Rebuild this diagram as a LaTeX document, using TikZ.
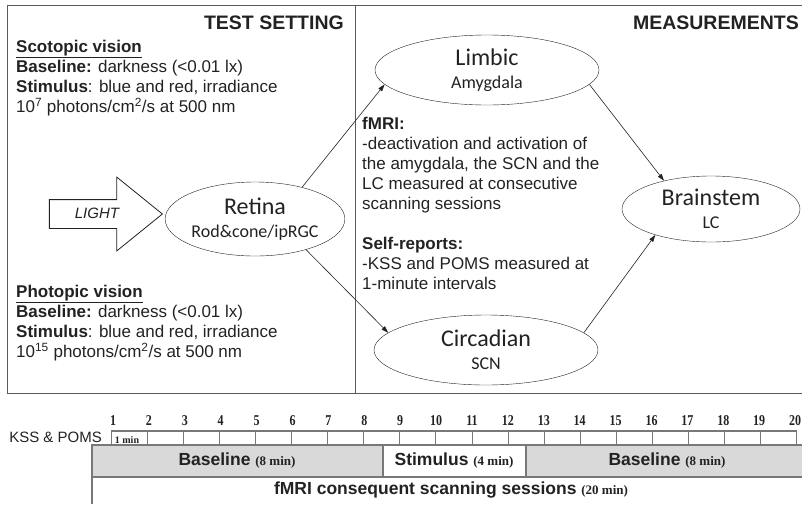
\documentclass[tikz,border=0pt]{standalone}
\usepackage{fontspec}
\setmainfont{Liberation Sans}
\newfontfamily\calfont{Carlito}
\newfontfamily\serfont{Liberation Serif}
\newfontfamily\numfont[FakeStretch=0.8]{Liberation Serif}
\usepackage{xcolor}
\definecolor{framegray}{RGB}{90,90,90}
\definecolor{bargray}{RGB}{217,217,217}
\definecolor{tickgray}{RGB}{120,120,120}
\definecolor{inkgray}{RGB}{34,34,34}
\newcommand*{\mins}[1]{{\serfont\bfseries\fontsize{13}{13}\selectfont #1}}
\newcommand*{\subpart}[1]{{\fontsize{18}{19}\selectfont #1}}
\usetikzlibrary{shapes.geometric,shapes.arrows,arrows.meta}

\begin{document}
\begin{tikzpicture}[x=1pt,y=-1pt,
    region/.style={draw=inkgray,ellipse,inner sep=0pt,minimum width=224pt,minimum height=70pt,
      align=center,text=inkgray,font=\calfont\fontsize{24}{24}\selectfont},
    info/.style={anchor=north west,inner sep=0pt,align=left,text=inkgray,
      font=\fontsize{17}{20}\selectfont},
    link/.style={draw=inkgray,line width=0.6pt,-{Triangle[length=7pt,width=4.5pt]}},
    heading/.style={anchor=east,inner sep=0pt,text=inkgray,font=\bfseries\fontsize{19.5}{20}\selectfont}]
  \useasboundingbox (0,0) rectangle (802,504);
  % frame
  \draw[framegray,line width=0.9pt] (802,5) -- (7,5) -- (7,393) -- (802,393);
  \draw[framegray,line width=0.9pt] (355,5) -- (355,393);
  \node[heading] (tset) at (344,23) {TEST SETTING};
  \node[heading] (meas) at (799,23) {MEASUREMENTS};
  % test setting
  \node[info] (scot) at (16,40) {\textbf{\underline{Scotopic vision}}\\
    \textbf{Baseline:} darkness (<0.01 lx)\\
    \textbf{Stimulus}: blue and red, irradiance\\
    10\textsuperscript{7} photons/cm\textsuperscript{2}/s at 500 nm};
  \node[info] (phot) at (16,285) {\textbf{\underline{Photopic vision}}\\
    \textbf{Baseline:} darkness (<0.01 lx)\\
    \textbf{Stimulus}: blue and red, irradiance\\
    10\textsuperscript{15} photons/cm\textsuperscript{2}/s at 500 nm};
  \node[single arrow,draw=inkgray,line width=0.8pt,single arrow head extend=22.5pt,
    single arrow tip angle=78,minimum height=113pt,text height=9pt,text depth=0pt,
    inner ysep=9.5pt,anchor=tip,text=inkgray,font=\itshape\fontsize{15}{15}\selectfont]
    (light) at (163,214) {LIGHT};
  \node[region,minimum width=176pt,minimum height=74pt] (retina) at (255,219)
    {Retina\\[-1pt]\subpart{Rod\&cone/ipRGC}};
  % measurements
  \node[region] (limbic) at (487,70) {Limbic\\[-1pt]\subpart{Amygdala}};
  \node[region] (circ) at (486,350) {Circadian\\[-1pt]\subpart{SCN}};
  \node[region,minimum width=178pt,minimum height=66pt] (brain) at (711,209)
    {Brainstem\\[-1pt]\subpart{LC}};
  \node[info] (fmri) at (362,117) {\textbf{fMRI:}\\
    -deactivation and activation of\\
    the amygdala, the SCN and the\\
    LC measured at consecutive\\
    scanning sessions};
  \node[info] (selfrep) at (362,237) {\textbf{Self-reports:}\\
    -KSS and POMS measured at\\
    1-minute intervals};
  \draw[link] (retina.34) -- (limbic.188);
  \draw[link] (retina.329) -- (circ.170);
  \draw[link] (limbic.352) -- (brain.149);
  \draw[link] (circ.10) -- (brain.205);
  % timeline
  \fill[bargray] (92,445) rectangle (802,477);
  \fill[white] (383,445) rectangle (526,477);
  \draw[tickgray,line width=1.2pt] (111,431) -- (797,431);
  \draw[tickgray,line width=1.2pt] (92,504) -- (92,445) -- (802,445);
  \draw[tickgray,line width=1.2pt] (92,477) -- (802,477);
  \draw[tickgray,line width=1.2pt] (383,445) -- (383,477);
  \draw[tickgray,line width=1.2pt] (526,445) -- (526,477);
  \foreach \i in {1,...,20}{
    \draw[tickgray,line width=1pt] ({111+(\i-1)*36.1},431) -- ++(0,14);
    \node[text=inkgray,font=\numfont\bfseries\fontsize{15}{15}\selectfont] (t\i)
      at ({113+(\i-1)*35.9},421) {\i};
  }
  \node[anchor=east,inner sep=0pt,text=inkgray,font=\fontsize{15}{15}\selectfont] (kss) at (102,437) {KSS \& POMS};
  \node[text=inkgray,font=\serfont\bfseries\fontsize{10}{10}\selectfont] (onemin) at (127,440) {1 min};
  \node[text=inkgray,font=\bfseries\fontsize{17.5}{18}\selectfont] (base1) at (237,461) {Baseline \mins{(8 min)}};
  \node[text=inkgray,font=\bfseries\fontsize{17.5}{18}\selectfont] (stim) at (454,461) {Stimulus \mins{(4 min)}};
  \node[text=inkgray,font=\bfseries\fontsize{17.5}{18}\selectfont] (base2) at (667,461) {Baseline \mins{(8 min)}};
  \node[text=inkgray,font=\bfseries\fontsize{17.5}{18}\selectfont] (scan) at (451,490) {fMRI consequent scanning sessions \mins{(20 min)}};
\end{tikzpicture}
\end{document}
